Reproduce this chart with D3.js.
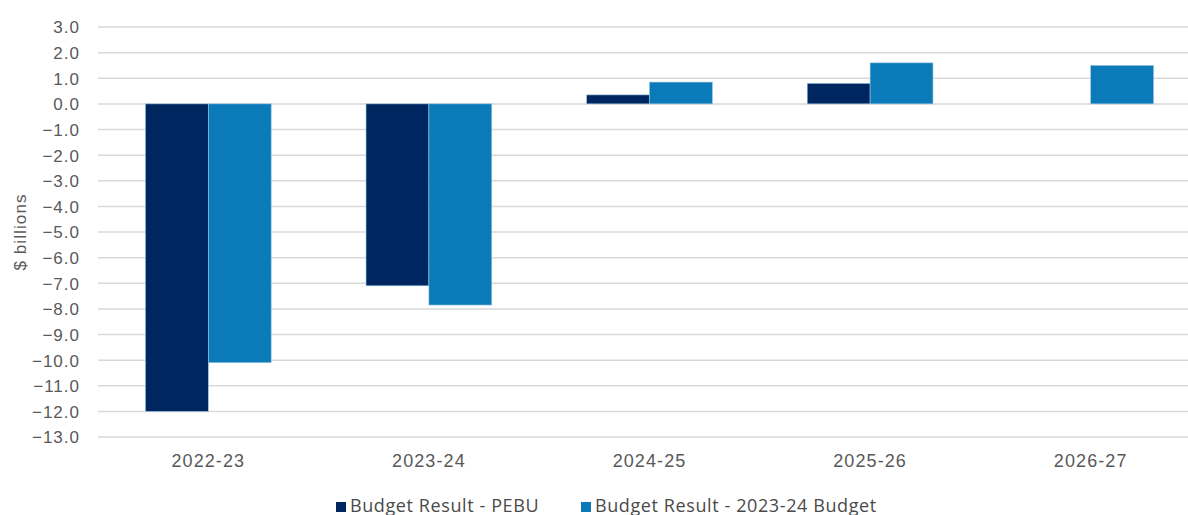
<!DOCTYPE html>
<html><head><meta charset="utf-8">
<script src="https://cdn.jsdelivr.net/npm/d3@7"></script>
<style>body{margin:0;background:#fff}svg{display:block;font-family:"Liberation Sans",Arial,sans-serif}</style>
</head><body><svg id="c" width="1188" height="515"></svg>
<script>
const categories = ["2022-23","2023-24","2024-25","2025-26","2026-27"];
const seriesNames = ["Budget Result - PEBU","Budget Result - 2023-24 Budget"];
const pebu = [-12.0, -7.1, 0.35, 0.8, null];
const budget = [-10.1, -7.85, 0.85, 1.6, 1.5];
const yTicks = d3.range(-13, 3.001, 1);
const colors = ["#002660","#0a7bb8"];

const svg = d3.select("#c");
const y = d3.scaleLinear().domain([-13, 3]).range([437, 27]);
const x0 = d3.scaleBand().domain(categories).range([98, 1201]).paddingInner(0.43).paddingOuter(0.215);
const x1 = d3.scaleBand().domain([0,1]).range([0, x0.bandwidth()]);

svg.append("g").selectAll("line").data(yTicks).join("line")
  .attr("x1", 98).attr("x2", 1201)
  .attr("y1", d => y(d)).attr("y2", d => y(d))
  .attr("stroke", "#d9d9d9").attr("stroke-width", 1.5);

const yAxis = d3.axisLeft(y).tickValues(yTicks).tickFormat(d3.format(".1f")).tickSize(0).tickPadding(0);
const ya = svg.append("g").attr("transform", "translate(80,0)").call(yAxis);
ya.select(".domain").remove();
ya.selectAll("text").attr("fill", "#595959").style("font-size", "17px").style("letter-spacing", "1px").attr("dy", "0.35em");

const data = [pebu, budget];
data.forEach((vals, s) => {
  svg.append("g").selectAll("rect").data(categories.map((c,i)=>({c, v: vals[i]})).filter(d => d.v !== null)).join("rect")
    .attr("x", d => x0(d.c) + x1(s))
    .attr("width", x1.bandwidth())
    .attr("y", d => y(Math.max(0, d.v)))
    .attr("height", d => Math.abs(y(d.v) - y(0)))
    .attr("fill", colors[s]).attr("stroke", "#9cc3e0").attr("stroke-width", 0.6);
});

const xAxis = d3.axisBottom(x0).tickSize(0).tickPadding(0);
const xa = svg.append("g").attr("transform", "translate(0,467)").call(xAxis);
xa.select(".domain").remove();
xa.selectAll("text").attr("fill", "#595959").style("font-size", "18px").style("letter-spacing", "1.1px").attr("dy", "0");

svg.append("text").attr("transform", "translate(26,232) rotate(-90)")
  .attr("text-anchor", "middle").attr("fill", "#595959").style("font-size", "17px").style("letter-spacing", "1.1px").text("$ billions");

const legX = [336, 581];
seriesNames.forEach((n, i) => {
  svg.append("rect").attr("x", legX[i]).attr("y", 502).attr("width", 10).attr("height", 10).attr("fill", colors[i]);
  svg.append("text").attr("x", legX[i] + 14).attr("y", 512).attr("fill", "#4a4a4a")
    .style("font-family", "'Open Sans',sans-serif").style("font-size", "18px").style("letter-spacing", "0.6px").text(n);
});
</script></body></html>
